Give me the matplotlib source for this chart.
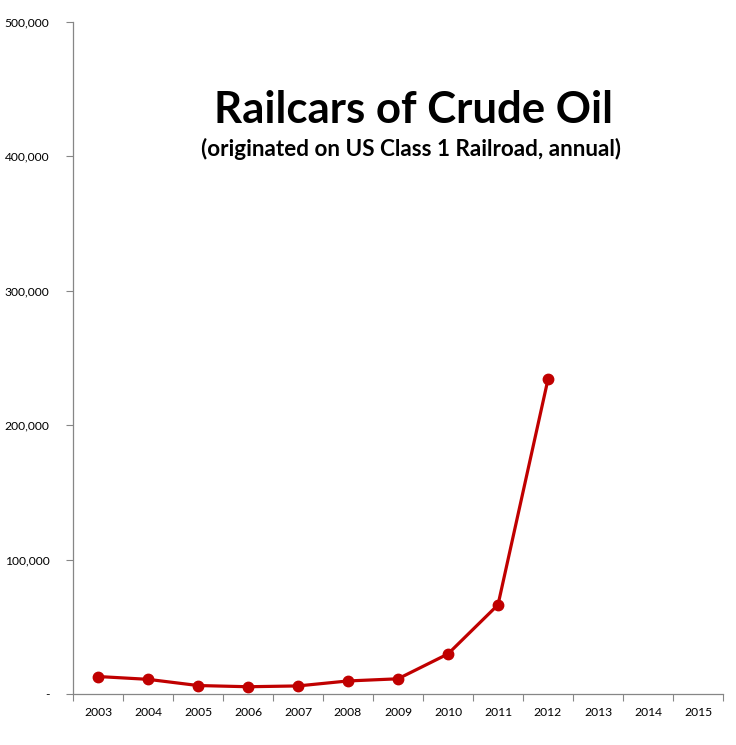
import matplotlib
matplotlib.use('Agg')
import matplotlib.pyplot as plt
from matplotlib.ticker import FuncFormatter, FixedLocator

years = ['2003', '2004', '2005', '2006', '2007', '2008', '2009',
         '2010', '2011', '2012', '2013', '2014', '2015']
railcars = [13000, 10900, 6300, 5400, 6000, 9700, 11300, 29800, 66300, 234000]

plt.rcParams['font.family'] = ['Lato', 'DejaVu Sans']

fig = plt.figure(figsize=(7.36, 7.45), dpi=100)
ax = fig.add_axes([73 / 736, 51 / 745, 650 / 736, 672.5 / 745])

x = list(range(len(railcars)))
ax.plot(x, railcars, color='#C00000', lw=2.3, marker='o', ms=7.5,
        solid_capstyle='round', solid_joinstyle='round')

ax.set_xlim(-0.5, len(years) - 0.5)
ax.set_ylim(0, 500000)
ax.set_xticks(range(len(years)))
ax.set_xticklabels(years)
ax.xaxis.set_minor_locator(FixedLocator([i - 0.5 for i in range(len(years) + 1)]))
ax.tick_params(axis='x', which='major', length=0, pad=9, labelsize=8.7)
ax.tick_params(axis='x', which='minor', length=5, color='#868686', width=0.8)
ax.set_yticks(range(0, 500001, 100000))
ax.yaxis.set_major_formatter(FuncFormatter(lambda v, p: '-' if v == 0 else f'{int(v):,}'))
ax.tick_params(axis='y', length=5, color='#868686', width=0.8, labelsize=8.7, pad=12)

for s in ['top', 'right']:
    ax.spines[s].set_visible(False)
for s in ['left', 'bottom']:
    ax.spines[s].set_color('#868686')
    ax.spines[s].set_linewidth(0.9)

fig.text(413 / 736, 1 - 123 / 745, 'Railcars of Crude Oil', ha='center', va='baseline',
         fontsize=31.5, fontweight='bold')
fig.text(411 / 736, 1 - 156 / 745, '(originated on US Class 1 Railroad, annual)',
         ha='center', va='baseline', fontsize=16.2, fontweight='bold')

fig.savefig('out.png', dpi=100)
